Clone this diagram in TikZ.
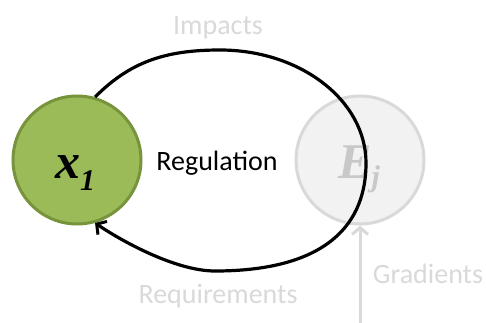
\documentclass[tikz,border=0pt]{standalone}
\usepackage{fontspec}
\setmainfont{Carlito}
\newfontfamily\serifbi{Liberation Serif}
\usetikzlibrary{arrows.meta}
\definecolor{greenfill}{HTML}{9BBB59}
\definecolor{greenline}{HTML}{77933C}
\definecolor{palefill}{HTML}{F2F2F2}
\definecolor{paleline}{HTML}{D9D9D9}
\definecolor{paletext}{HTML}{D9D9D9}
\definecolor{etext}{HTML}{C8C8C8}
\tikzset{
  bigcircle/.style={circle, minimum size=128pt, inner sep=0pt, line width=3pt},
  lbl/.style={anchor=base, inner sep=0pt, font=\fontsize{28}{28}\selectfont},
  varname/.style={anchor=base, inner sep=0pt, font=\fontsize{50}{50}\serifbi\bfseries\itshape},
  barb/.style={-{Straight Barb[length=7pt,width=16pt,line width=3pt]}},
}
\begin{document}
\begin{tikzpicture}[x=1pt,y=-1pt]
\useasboundingbox (0,0) rectangle (486,323);
\node[bigcircle, fill=palefill, draw=paleline] (Ej) at (360,160) {};
\node[varname, text=etext] (Ejt) at (359,178) {E\raisebox{-8pt}{\fontsize{30}{30}\selectfont j}};
\node[bigcircle, fill=greenfill, draw=greenline] (x1) at (77,160) {};
\node[varname, text=black] (x1t) at (75,178) {x\raisebox{-12pt}{\fontsize{30}{30}\selectfont 1}};
\node[lbl, text=paletext] (imp) at (218,35) {Impacts};
\node[lbl, text=black] (reg) at (217,170) {Regulation};
\node[lbl, text=paletext] (req) at (218,303) {Requirements};
\node[lbl, text=paletext] (grad) at (428,283) {Gradients};
\coordinate (gstart) at (360,323);
\draw[barb, line width=3pt, paleline] (gstart) -- (Ej.south);
\draw[barb, line width=3.2pt, black]
  (x1.74) .. controls (130,62) and (165,50) .. (220,50)
  .. controls (300.6,50) and (366,100.6) .. (366,163)
  .. controls (366,233) and (315,271) .. (215,271)
  .. controls (175,271) and (120,240) .. (x1.-74);
\end{tikzpicture}
\end{document}
